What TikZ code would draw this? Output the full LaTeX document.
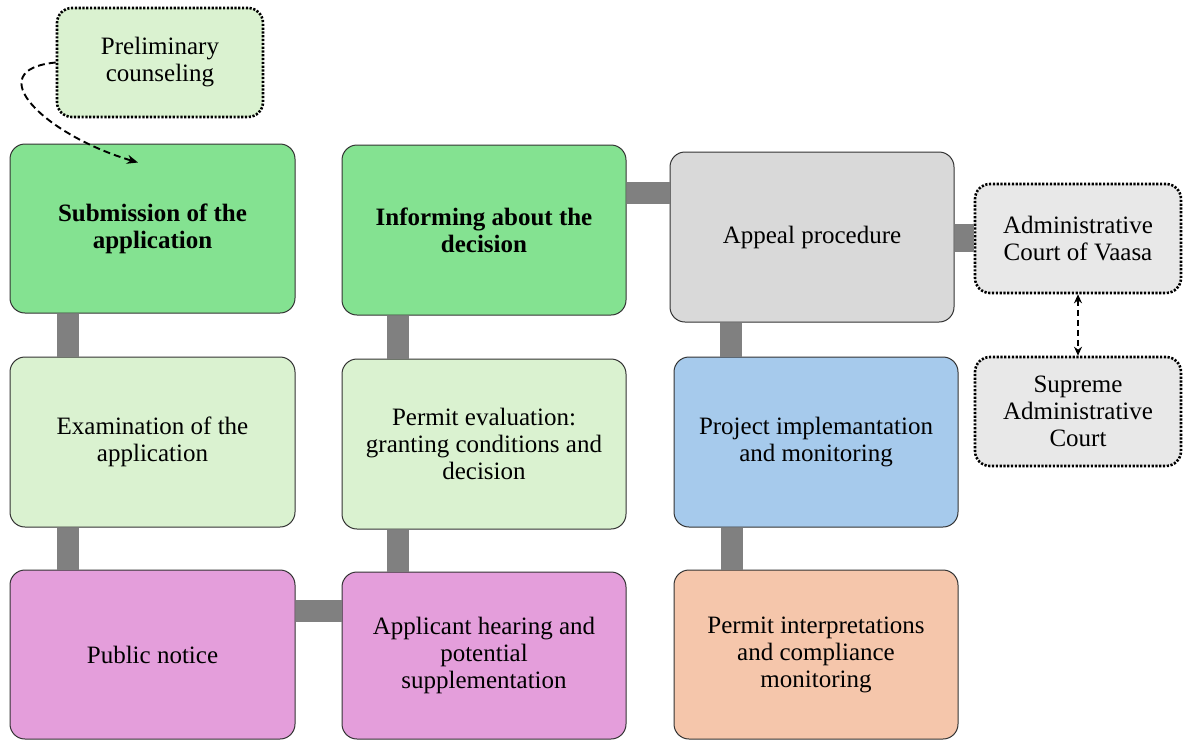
\documentclass[tikz,border=0pt]{standalone}
\usepackage{fontspec}
\setmainfont{Liberation Serif}
\usetikzlibrary{arrows.meta}
\definecolor{dkgreen}{HTML}{84E291}
\definecolor{ltgreen}{HTML}{DAF2D0}
\definecolor{pinkv}{HTML}{E49EDB}
\definecolor{grayb}{HTML}{D9D9D9}
\definecolor{blueb}{HTML}{A6CAEC}
\definecolor{peach}{HTML}{F5C6AB}
\definecolor{courtg}{HTML}{E8E8E8}
\definecolor{barg}{HTML}{808080}
\definecolor{edgeg}{HTML}{333333}
\tikzset{
  box/.style={rectangle, rounded corners=15pt, draw=edgeg, line width=1pt,
    minimum width=284pt, minimum height=169pt, align=center, inner sep=4pt,
    font=\fontsize{25}{27}\selectfont},
  dotbox/.style={rectangle, rounded corners=15pt, draw=black, line width=2.6pt,
    dash pattern=on 2.2pt off 1.6pt, minimum width=206pt, minimum height=109pt,
    align=center, font=\fontsize{25}{27}\selectfont},
  bar/.style={draw=barg, line width=22pt},
  dasharrow/.style={draw=black, line width=1.9pt, dash pattern=on 7pt off 4pt,
    -{Stealth[length=11pt,width=9pt]}},
  dashboth/.style={draw=black, line width=1.7pt, dash pattern=on 6pt off 4pt,
    {Stealth[length=9pt,width=8pt]}-{Stealth[length=9pt,width=8pt]}}
}
\begin{document}
\begin{tikzpicture}[x=1pt,y=-1pt]
\useasboundingbox (0,0) rectangle (1183,740);
% nodes
\node[dotbox, fill=ltgreen] (pre) at (160,62.5) {Preliminary\\counseling};
\node[box, fill=dkgreen, minimum width=285pt] (sub) at (152.5,228.5) {\bfseries Submission of the\\\bfseries application};
\node[box, fill=ltgreen, minimum width=285pt, minimum height=170pt] (exa) at (152.5,442) {Examination of the\\application};
\node[box, fill=pinkv, minimum width=285pt] (pub) at (152.5,654.5) {Public notice};
\node[box, fill=dkgreen, minimum height=170pt] (inf) at (484,230) {\bfseries Informing about the\\\bfseries decision};
\node[box, fill=ltgreen, minimum height=170pt] (eva) at (484,444) {Permit evaluation:\\granting conditions and\\decision};
\node[box, fill=pinkv, minimum height=167pt] (app) at (484,655.5) {Applicant hearing and\\potential\\supplementation};
\node[box, fill=grayb, minimum height=170pt] (apl) at (812,237) {Appeal procedure};
\node[box, fill=blueb, minimum height=170pt] (prj) at (816,442) {Project implemantation\\and monitoring};
\node[box, fill=peach] (itp) at (816,654.5) {Permit interpretations\\and compliance\\monitoring};
\node[dotbox, fill=courtg] (vaa) at (1078,238.5) {Administrative\\Court of Vaasa};
\node[dotbox, fill=courtg] (sup) at (1078,411.5) {Supreme\\Administrative\\Court};
% bars
\draw[bar] ([xshift=-84.5pt]sub.south) -- ([xshift=-84.5pt]exa.north);
\draw[bar] ([xshift=-84.5pt]exa.south) -- ([xshift=-84.5pt]pub.north);
\draw[bar] ([yshift=43.5pt]pub.east) -- ([yshift=44.5pt]app.west);
\draw[bar] ([xshift=-86pt]app.north) -- ([xshift=-86pt]eva.south);
\draw[bar] ([xshift=-86pt]eva.north) -- ([xshift=-86pt]inf.south);
\draw[bar] ([yshift=37pt]inf.east) -- ([yshift=44pt]apl.west);
\draw[bar] ([xshift=-81pt]apl.south) -- ([xshift=-85pt]prj.north);
\draw[bar] ([xshift=-84pt]prj.south) -- ([xshift=-84pt]itp.north);
\draw[draw=barg, line width=28pt] ([yshift=-1pt]apl.east) -- ([yshift=0.5pt]vaa.west);
% dashed arrows
\coordinate (tgt) at ([xshift=-14.5pt,yshift=-19pt]sub.north);
\draw[dasharrow] (pre.west) .. controls (-22,70) and (45,135) .. (tgt);
\draw[dashboth] (vaa.south) -- (sup.north);
\end{tikzpicture}
\end{document}
